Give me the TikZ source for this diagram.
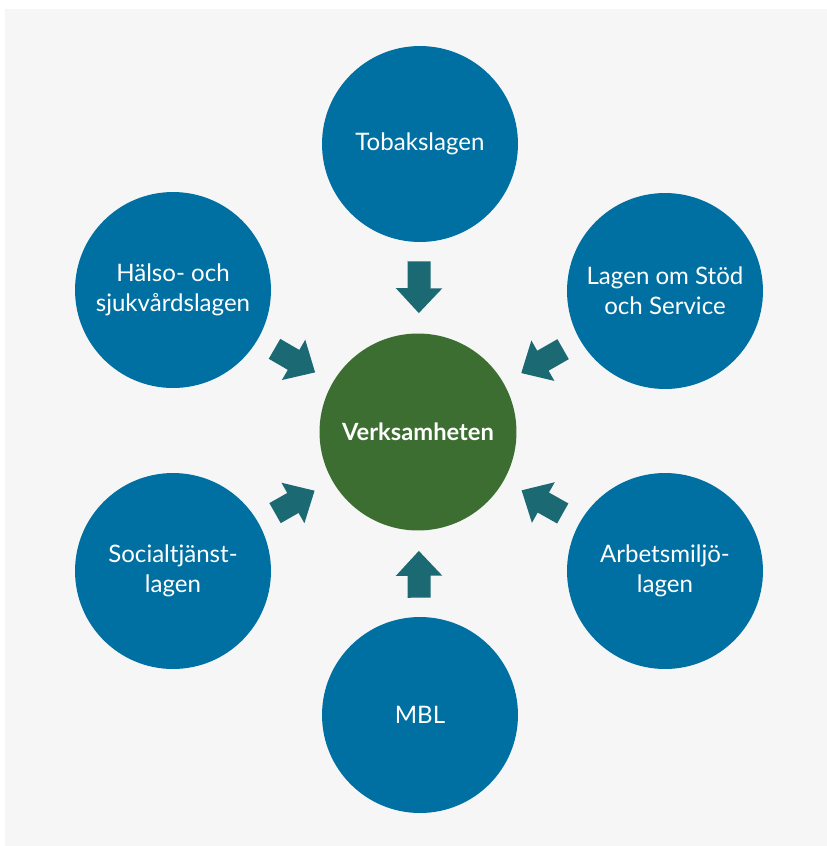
\documentclass[tikz,border=0pt]{standalone}
\usepackage{fontspec}
\setmainfont{Lato}
\usepackage{xcolor}
\definecolor{lawblue}{RGB}{0,112,162}
\definecolor{coregreen}{RGB}{59,110,48}
\definecolor{arrowteal}{RGB}{27,106,115}
\definecolor{bggray}{RGB}{246,246,246}
\usetikzlibrary{arrows.meta,positioning}

\begin{document}
\begin{tikzpicture}[
  x=0.02cm, y=-0.02cm,
  every node/.style={font=\fontsize{13.7}{17.2}\selectfont},
  lawcircle/.style={circle,fill=lawblue,text=white,minimum size=3.92cm,
                    inner sep=0pt,align=center},
  corecircle/.style={circle,fill=coregreen,text=white,minimum size=3.94cm,
                     inner sep=0pt,align=center,font=\fontsize{13.5}{17}\selectfont\bfseries},
  bigarrow/.style={draw=arrowteal,line width=0.46cm,line cap=butt,
                   -{Triangle[width=0.9cm,length=0.5cm]},
                   shorten >=0.4cm,shorten <=0.38cm},
]
  \useasboundingbox (0,0) rectangle (827,846);
  % Background
  \fill[bggray] (5,9) rectangle (827,846);

  % Centre
  \node[corecircle] (core) at (418,432) {Verksamheten};

  % Laws around it
  \node[lawcircle] (tobak) at (420,144) {Tobakslagen};
  \node[lawcircle] (halso) at (173,290) {Hälso- och\\sjukvårdslagen};
  \node[lawcircle] (lss)   at (665,291) {Lagen om Stöd\\och Service};
  \node[lawcircle] (social) at (173,571) {Socialtjänst-\\lagen};
  \node[lawcircle] (arbmil) at (665,571) {Arbetsmiljö-\\lagen};
  \node[lawcircle] (mbl)   at (420,715) {MBL};

  % Arrows towards the centre
  \foreach \law in {tobak,halso,lss,social,arbmil,mbl}
    \draw[bigarrow] (\law) -- (core);
\end{tikzpicture}
\end{document}
